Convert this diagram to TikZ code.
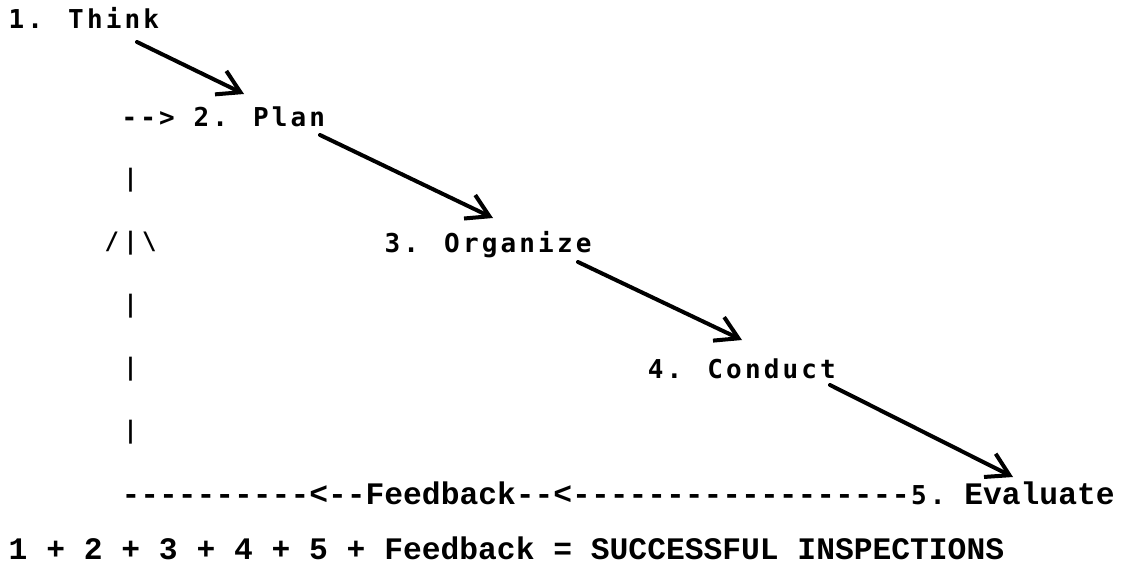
\documentclass[tikz,border=0pt]{standalone}
\usepackage{fontspec}
\usetikzlibrary{arrows.meta}
\newfontfamily\typesans[LetterSpace=12.1,Ligatures=TeXOff]{DejaVu Sans Mono}
\newfontfamily\typeslab[Ligatures=TeXOff]{Liberation Mono}
\newfontfamily\typebar[LetterSpace=18.1,Ligatures=TeXOff]{DejaVu Sans Mono}
\newcommand{\slabfont}{\typeslab\bfseries\fontsize{31.3pt}{36pt}\selectfont}

\tikzset{
  lbl/.style={inner sep=0pt, anchor=base west, font=\typesans\bfseries\fontsize{26pt}{30pt}\selectfont},
  slab/.style={inner sep=0pt, anchor=base west, font=\slabfont},
  bar/.style={inner sep=0pt, font=\typebar\bfseries\fontsize{24pt}{28pt}\selectfont},
  flow/.style={line width=4pt, line cap=round, -{Straight Barb[length=22pt,width=26pt]}}
}

\begin{document}
\begin{tikzpicture}[x=1pt,y=-1pt]
		\useasboundingbox (0,0) rectangle (1130,571);

		% the five steps
		\node[lbl] (think)    at (8.5,28)    {1. Think};
		\node[lbl] (plan)     at (121.3,126) {--> 2. Plan};
		\node[lbl] (organize) at (384.5,252) {3. Organize};
		\node[lbl] (conduct)  at (647.7,378) {4. Conduct};
		\node[lbl] (evaluate) at (910.9,504) {5.\ {\slabfont Evaluate}};

		% feedback loop
		\node[slab] (feedback) at (121.3,504) {----------<--Feedback--<------------------};
		\node[bar] (bar1) at (130.7,180) {|};
		\node[bar] (fork) at (130.7,243) {/|\textbackslash};
		\node[bar] (bar2) at (130.7,306) {|};
		\node[bar] (bar3) at (130.7,369) {|};
		\node[bar] (bar4) at (130.7,432) {|};

		\node[slab] (total) at (8.5,559) {1 + 2 + 3 + 4 + 5 + Feedback = SUCCESSFUL INSPECTIONS};

		\draw[flow] ([shift={(128.5pt,-14pt)}]think.base west) -- ([shift={(122.7pt,32pt)}]plan.base west);
		\draw[flow] ([shift={(198.7pt,-9pt)}]plan.base west) -- ([shift={(108.5pt,34pt)}]organize.base west);
		\draw[flow] ([shift={(193.5pt,-10pt)}]organize.base west) -- ([shift={(94.3pt,38pt)}]conduct.base west);
		\draw[flow] ([shift={(182.3pt,-7pt)}]conduct.base west) -- ([shift={(102.1pt,27pt)}]evaluate.base west);
\end{tikzpicture}
\end{document}
